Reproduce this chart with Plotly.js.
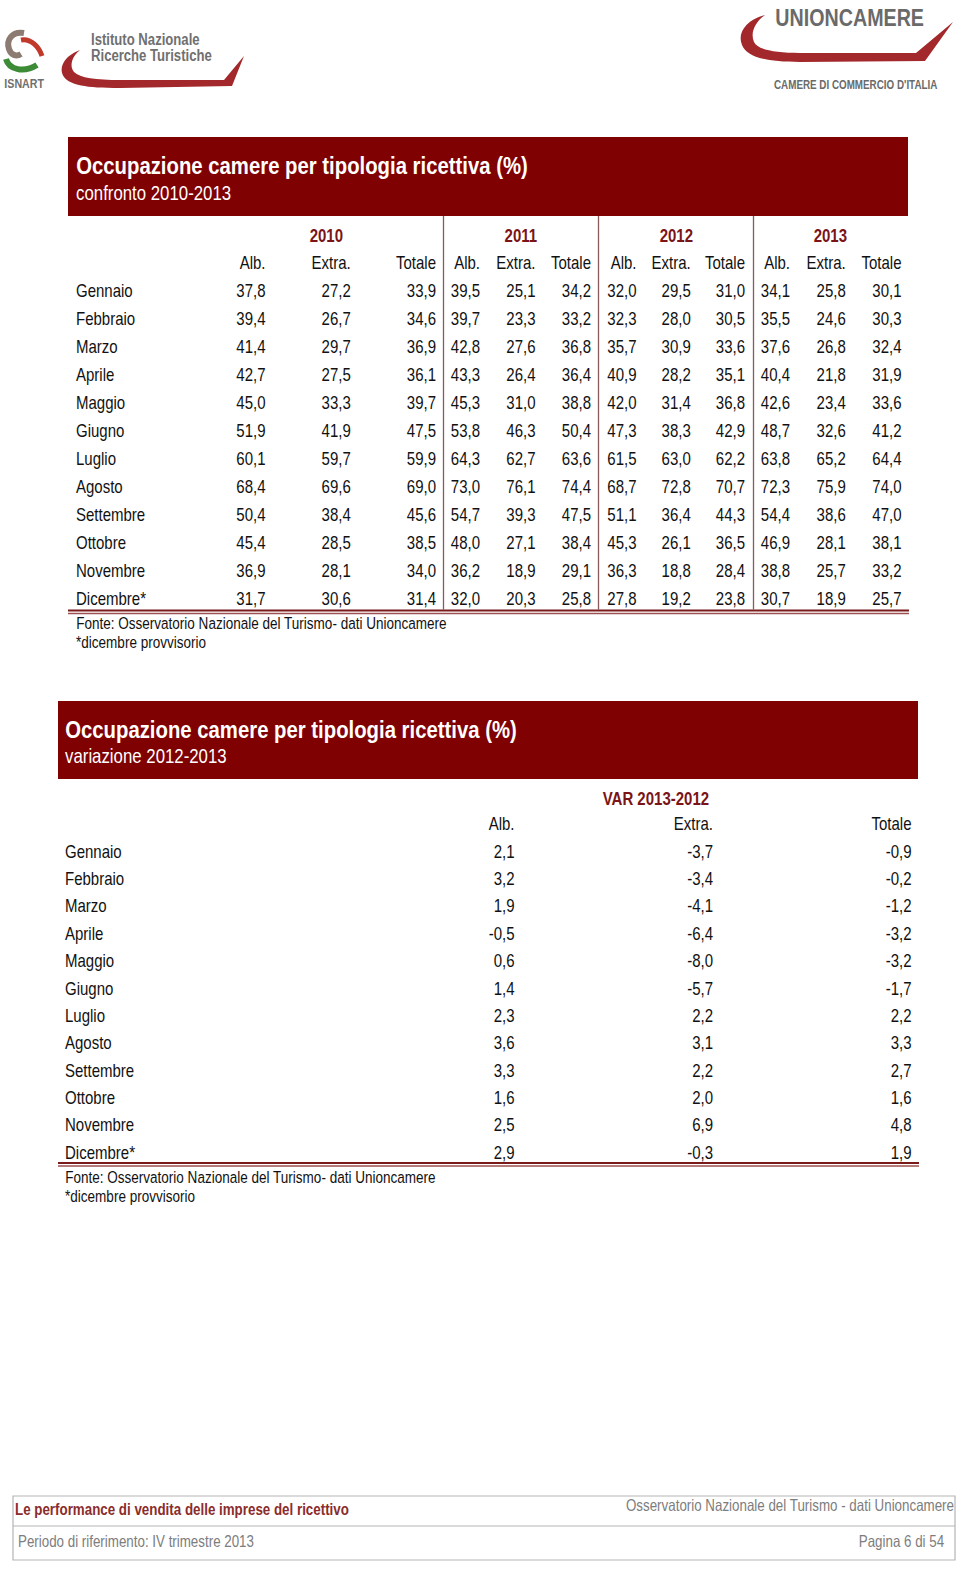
<!DOCTYPE html>
<html><head><meta charset="utf-8">
<script src="https://cdn.plot.ly/plotly-3.0.1.min.js"></script>
<style>html,body{margin:0;padding:0;background:#fff}</style>
</head><body><div id="chart" style="width:960px;height:1570px"></div>
<script>
// ---------- data ----------
const mesi = ['Gennaio','Febbraio','Marzo','Aprile','Maggio','Giugno','Luglio','Agosto','Settembre','Ottobre','Novembre','Dicembre*'];
const voci = ['Alb.','Extra.','Totale'];
const anni = ['2010','2011','2012','2013'];
const alb2010   = [37.8,39.4,41.4,42.7,45.0,51.9,60.1,68.4,50.4,45.4,36.9,31.7];
const extra2010 = [27.2,26.7,29.7,27.5,33.3,41.9,59.7,69.6,38.4,28.5,28.1,30.6];
const tot2010   = [33.9,34.6,36.9,36.1,39.7,47.5,59.9,69.0,45.6,38.5,34.0,31.4];
const alb2011   = [39.5,39.7,42.8,43.3,45.3,53.8,64.3,73.0,54.7,48.0,36.2,32.0];
const extra2011 = [25.1,23.3,27.6,26.4,31.0,46.3,62.7,76.1,39.3,27.1,18.9,20.3];
const tot2011   = [34.2,33.2,36.8,36.4,38.8,50.4,63.6,74.4,47.5,38.4,29.1,25.8];
const alb2012   = [32.0,32.3,35.7,40.9,42.0,47.3,61.5,68.7,51.1,45.3,36.3,27.8];
const extra2012 = [29.5,28.0,30.9,28.2,31.4,38.3,63.0,72.8,36.4,26.1,18.8,19.2];
const tot2012   = [31.0,30.5,33.6,35.1,36.8,42.9,62.2,70.7,44.3,36.5,28.4,23.8];
const alb2013   = [34.1,35.5,37.6,40.4,42.6,48.7,63.8,72.3,54.4,46.9,38.8,30.7];
const extra2013 = [25.8,24.6,26.8,21.8,23.4,32.6,65.2,75.9,38.6,28.1,25.7,18.9];
const tot2013   = [30.1,30.3,32.4,31.9,33.6,41.2,64.4,74.0,47.0,38.1,33.2,25.7];
const varLabel  = 'VAR 2013-2012';
const varAlb    = [2.1,3.2,1.9,-0.5,0.6,1.4,2.3,3.6,3.3,1.6,2.5,2.9];
const varExtra  = [-3.7,-3.4,-4.1,-6.4,-8.0,-5.7,2.2,3.1,2.2,2.0,6.9,-0.3];
const varTot    = [-0.9,-0.2,-1.2,-3.2,-3.2,-1.7,2.2,3.3,2.7,1.6,4.8,1.9];

// ---------- helpers ----------
const FONT = "'Liberation Sans', Arial, sans-serif";
const SQUEEZE = 0.82;   // horizontal compression to mimic a narrow typeface
const fmt = v => v.toFixed(1).replace('.', ',');
const righe = ['anno','voce'].concat(mesi);
const W = 960, H = 1570;
const px = v => v / W;
const py = v => 1 - v / H;
const RED = '#7f0101', DARKRED = '#7b1416', TXT = '#111111', GREY = '#7d7d7d';

function rowsAxis(topY, bottomY, anchor) {
  const step = (bottomY - topY) / (righe.length - 1);
  return {domain: [py(bottomY + step / 2), py(topY - step / 2)], type: 'category',
    categoryorder: 'array', categoryarray: righe, range: [righe.length - 0.5, -0.5],
    visible: false, anchor: anchor, fixedrange: true};
}
function colAxis(left, right, firstX, lastX, anchor) {
  const step = (lastX - firstX) / (voci.length - 1);
  return {domain: [px(left), px(right)], type: 'category', categoryorder: 'array',
    categoryarray: voci, range: [-(firstX - left) / step, (right - firstX) / step],
    visible: false, anchor: anchor, fixedrange: true};
}
function labelAxis(left, anchor) {
  return {domain: [px(left), px(left + 120)], type: 'category', range: [0, 1],
    visible: false, anchor: anchor, fixedrange: true};
}
const cellFont = {family: FONT, size: 18.3, color: TXT};

function labelTrace(xa, ya) {
  return {type: 'scatter', mode: 'text', xaxis: xa, yaxis: ya,
    x: righe.map(() => 'Mese'), y: righe, text: ['', ''].concat(mesi),
    textposition: 'middle right', textfont: cellFont, hoverinfo: 'skip', cliponaxis: false};
}
function groupTrace(series, xa, ya) {
  const xs = voci.slice(), ys = voci.map(() => 'voce'), ts = voci.slice();
  mesi.forEach((m, i) => series.forEach((s, c) => { xs.push(voci[c]); ys.push(m); ts.push(fmt(s[i])); }));
  return {type: 'scatter', mode: 'text', xaxis: xa, yaxis: ya, x: xs, y: ys, text: ts,
    textposition: 'middle left', textfont: cellFont, hoverinfo: 'skip', cliponaxis: false};
}

const gruppi1 = [[alb2010, extra2010, tot2010], [alb2011, extra2011, tot2011],
                 [alb2012, extra2012, tot2012], [alb2013, extra2013, tot2013]];

const data = [labelTrace('x', 'y')];
gruppi1.forEach((g, i) => data.push(groupTrace(g, 'x' + (i + 2), 'y')));
data.push(labelTrace('x6', 'y2'));
data.push(groupTrace([varAlb, varExtra, varTot], 'x7', 'y2'));

// ---------- layout ----------
const layout = {
  width: W, height: H, autosize: false, showlegend: false, hovermode: false,
  margin: {l: 0, r: 0, t: 0, b: 0, pad: 0},
  paper_bgcolor: '#ffffff', plot_bgcolor: 'rgba(0,0,0,0)',
  font: {family: FONT, size: 18, color: TXT},
  xaxis: labelAxis(76, 'y'),
  xaxis2: colAxis(209, 443.5, 265.5, 436, 'y'),
  xaxis3: colAxis(443.5, 598.5, 480, 591, 'y'),
  xaxis4: colAxis(598.5, 753.5, 636.5, 745, 'y'),
  xaxis5: colAxis(753.5, 908, 790, 901.5, 'y'),
  yaxis: rowsAxis(236, 600, 'x'),
  xaxis6: labelAxis(65, 'y2'),
  xaxis7: colAxis(400, 912, 514.5, 911.5, 'y2'),
  yaxis2: rowsAxis(798.3, 1154.3, 'x6'),
  xaxis8: {domain: [0, 1], range: [0, W], visible: false, anchor: 'y3', fixedrange: true},
  yaxis3: {domain: [0, 1], range: [H, 0], visible: false, anchor: 'x8', fixedrange: true},
  shapes: [], annotations: []
};

const P = {xref: 'x8', yref: 'y3'};
function rect(x0, y0, x1, y1, fill, line) {
  layout.shapes.push(Object.assign({type: 'rect', x0, y0, x1, y1, fillcolor: fill,
    line: line || {width: 0}, layer: 'below'}, P));
}
function hline(x0, x1, y, color, w) {
  layout.shapes.push(Object.assign({type: 'line', x0, x1, y0: y, y1: y, line: {color, width: w}}, P));
}
function vline(x, y0, y1, color, w) {
  layout.shapes.push(Object.assign({type: 'line', x0: x, x1: x, y0, y1, line: {color, width: w}}, P));
}
function path(d, fill, line) {
  layout.shapes.push(Object.assign({type: 'path', path: d, fillcolor: fill || 'rgba(0,0,0,0)',
    line: line || {width: 0}}, P));
}
// text annotations; small offsets compensate for the annotation box padding
function txt(x, y, text, opts) {
  opts = opts || {};
  const xa = opts.xanchor || 'left';
  const dx = xa === 'left' ? -2 : xa === 'right' ? 2.5 : 0;
  layout.annotations.push(Object.assign({x: x + dx, y, text, showarrow: false,
    xanchor: xa, yanchor: 'middle',
    font: {family: FONT, size: opts.size || 16.5, color: opts.color || TXT, weight: opts.weight || 'normal'}}, P));
}

// --- logos ---
path('M 24,33 C 12,31 6,40 9,49 C 11,55 16,57 21,54', null, {color: '#8c7b70', width: 6});
path('M 21,40 C 31,38 39,47 42,56', null, {color: '#c0392b', width: 5});
path('M 6,59 C 9,70 24,73 37,65', null, {color: '#3d8b37', width: 6});
txt(24, 83, 'ISNART', {xanchor: 'center', size: 13, color: '#6f6f6f', weight: 'bold'});
path('M 80,50 C 64,56 58,68 64,77 C 70,85 85,88 120,88 L 232,86 L 244,56 L 224,80 L 120,80 C 96,80 80,78 74,72 C 69,66 72,56 80,50 Z', '#a3282b');
txt(91, 39, 'Istituto Nazionale', {size: 16, color: '#707070', weight: 'bold'});
txt(91, 55, 'Ricerche Turistiche', {size: 16, color: '#707070', weight: 'bold'});

path('M 765,15 C 746,20 737,33 742,45 C 747,57 765,62 800,62 L 925,61 L 953,22 L 916,53 L 800,53 C 775,53 758,50 754,42 C 750,33 755,22 765,15 Z', '#a3282b');
txt(849, 17, 'UNIONCAMERE', {xanchor: 'center', size: 24, color: '#6a6a6a', weight: 'bold'});
txt(856, 85, "CAMERE DI COMMERCIO D'ITALIA", {xanchor: 'center', size: 12, color: '#6a6a6a', weight: 'bold'});

// --- table 1 ---
rect(68, 137, 908, 216, RED);
txt(76, 165, 'Occupazione camere per tipologia ricettiva (%)', {size: 24.8, color: '#ffffff', weight: 'bold'});
txt(76, 192, 'confronto 2010-2013', {size: 20.5, color: '#ffffff'});
[443.5, 598.5, 753.5].forEach(x => vline(x, 216, 609.5, '#8a5a5a', 1.3));
hline(68, 909, 610.5, '#7b1a1a', 2);
hline(68, 909, 613.5, '#9c5050', 1.3);
anni.forEach((a, i) => layout.annotations.push({xref: 'x' + (i + 2) + ' domain', x: 0.5, yref: 'y', y: 'anno',
  text: a, showarrow: false, xanchor: 'center', yanchor: 'middle',
  font: {family: FONT, size: 18.3, color: DARKRED, weight: 'bold'}}));
txt(76, 623, 'Fonte: Osservatorio Nazionale del Turismo- dati Unioncamere');
txt(76, 642, '*dicembre provvisorio');

// --- table 2 ---
rect(58, 701, 918, 779, RED);
txt(65, 729, 'Occupazione camere per tipologia ricettiva (%)', {size: 24.8, color: '#ffffff', weight: 'bold'});
txt(65, 755, 'variazione 2012-2013', {size: 20.5, color: '#ffffff'});
layout.annotations.push({xref: 'x7 domain', x: 0.5, yref: 'y2', y: 'anno', text: varLabel,
  showarrow: false, xanchor: 'center', yanchor: 'middle',
  font: {family: FONT, size: 18.3, color: DARKRED, weight: 'bold'}});
hline(58, 919, 1163, '#7b1a1a', 2);
hline(58, 919, 1166, '#9c5050', 1.3);
txt(65, 1177, 'Fonte: Osservatorio Nazionale del Turismo- dati Unioncamere');
txt(65, 1196, '*dicembre provvisorio');

// --- footer ---
rect(13, 1496, 955, 1560, 'rgba(0,0,0,0)', {color: '#b5b5b5', width: 1.2});
hline(13, 955, 1526, '#b5b5b5', 1.2);
txt(15, 1509, 'Le performance di vendita delle imprese del ricettivo', {size: 16.3, color: '#8b2c2c', weight: 'bold'});
txt(953, 1505, 'Osservatorio Nazionale del Turismo - dati Unioncamere', {xanchor: 'right', size: 16.3, color: GREY});
txt(18, 1541, 'Periodo di riferimento: IV trimestre 2013', {size: 16.3, color: GREY});
txt(943, 1541, 'Pagina 6 di 54', {xanchor: 'right', size: 16.3, color: GREY});

// ---------- draw, then compress glyphs horizontally around their anchor ----------
function squeeze(t, ax) {
  const prev = t.getAttribute('transform') || '';
  t.setAttribute('transform', prev + ' translate(' + ax + ',0) scale(' + SQUEEZE + ',1) translate(' + (-ax) + ',0)');
}
Plotly.newPlot('chart', data, layout, {staticPlot: true, displayModeBar: false}).then(gd => {
  gd.querySelectorAll('.textpoint text').forEach(t => {
    const bb = t.getBBox();
    const anc = t.getAttribute('text-anchor');
    const ax = anc === 'end' ? bb.x + bb.width : anc === 'middle' ? bb.x + bb.width / 2 : bb.x;
    squeeze(t, ax);
  });
  gd.querySelectorAll('g.annotation').forEach(g => {
    const a = layout.annotations[+g.getAttribute('data-index')];
    const t = g.querySelector('text.annotation-text');
    if (!a || !t) return;
    const bb = t.getBBox();
    const ax = a.xanchor === 'right' ? bb.x + bb.width : a.xanchor === 'center' ? bb.x + bb.width / 2 : bb.x;
    squeeze(t, ax);
  });
});
</script>
</body></html>
